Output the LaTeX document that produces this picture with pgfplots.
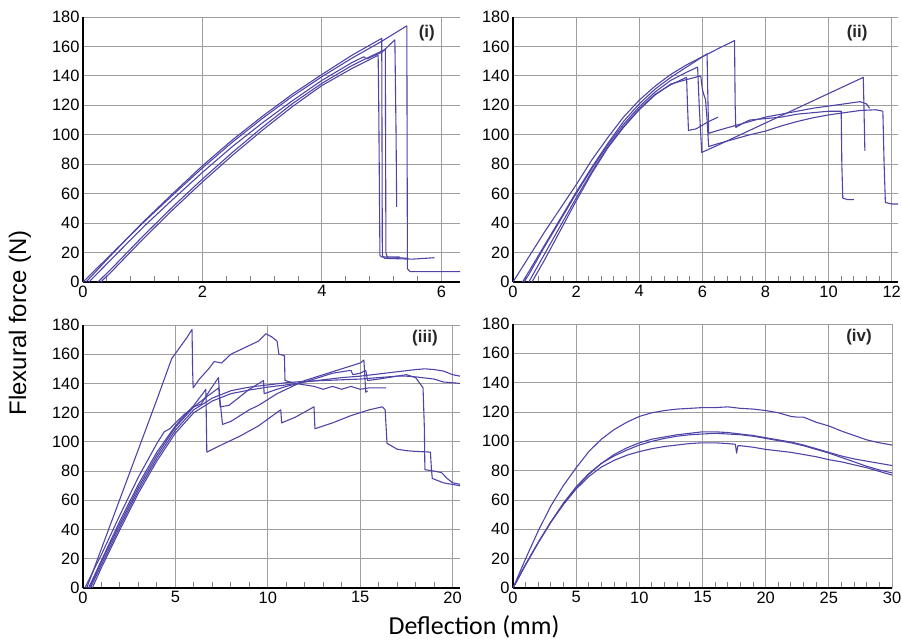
\documentclass[border=0pt]{standalone}
\usepackage{fontspec}
\setmainfont{Liberation Sans}
\newfontfamily\carlito{Carlito}
\usepackage{pgfplots}
\pgfplotsset{compat=1.18}

\definecolor{fcurve}{RGB}{78,68,168}
\definecolor{gridc}{RGB}{158,158,158}

\pgfplotsset{
  panel/.style={
    scale only axis,
    ymin=0, ymax=180, xmin=0,
    ytick={0,20,...,180},
    axis x line*=bottom, axis y line*=left,
    axis line style={black, line width=1.6pt, -},
    grid=major,
    major grid style={gridc, line width=1pt},
    major tick length=0pt,
    minor x tick num=4,
    minor tick length=6pt,
    minor x tick style={gray, line width=1pt},
    tick align=inside,
    tick label style={font=\fontsize{16.5}{17}\selectfont},
    /pgf/number format/assume math mode=true,
    no markers,
  },
}
\tikzset{
  fc/.style={draw=fcurve, line width=1.1pt, line join=round, mark=none},
  tag/.style={font=\fontsize{17}{18}\selectfont\bfseries, text=black!85},
}

\begin{document}
\begin{tikzpicture}
\useasboundingbox (0,0) rectangle (902bp,-640bp);

% (i)
\begin{axis}[panel, at={(83bp,-282bp)}, anchor=south west,
  width=377bp, height=265bp, xmax=6.31, xtick={0,2,4,6}]
\addplot[fc] coordinates {(0,0) (0.5,20) (1,40) (1.5,59) (2,77.5) (2.5,95) (3,111) (3.5,126) (4,139.5) (4.5,152) (5,163.5) (5.42,174) (5.43,9) (5.48,7) (6.31,7)};
\addplot[fc] coordinates {(0.05,0) (0.5,19.5) (1,40.5) (1.5,60) (2,79) (2.5,96.5) (3,112.5) (3.5,127.5) (4,141) (4.5,154) (5.0,165.5) (5.01,18) (5.05,16) (5.3,16.5) (5.45,16)};
\addplot[fc] coordinates {(0.1,0) (0.5,16.5) (1,37) (1.5,56) (2,74.5) (2.5,92) (3,108) (3.5,123) (4,137) (4.5,149) (4.7,153) (4.75,151.5) (5,156) (5.22,164.5) (5.24,100) (5.25,51)};
\addplot[fc] coordinates {(0.25,0) (0.5,10) (1,31) (1.5,51) (2,70) (2.5,88) (3,105) (3.5,121) (4,135) (4.5,147) (4.8,153) (5.06,158) (5.07,20) (5.1,16) (5.5,15.5) (5.88,16.5)};
\addplot[fc] coordinates {(0.3,0) (0.5,8) (1,29) (1.5,49) (2,68) (2.5,86) (3,103) (3.5,119) (4,133.5) (4.5,145) (4.94,154) (4.95,120) (4.97,18) (5.0,17) (5.3,17)};
\node[tag] at (rel axis cs:0.912,0.94) {(i)};
\end{axis}

% (ii)
\begin{axis}[panel, at={(513bp,-282bp)}, anchor=south west,
  width=385bp, height=265bp, xmax=12.2, xtick={0,2,...,12}]
\addplot[fc] coordinates {(0,0) (0.5,17) (1,34) (1.5,50) (2,66) (2.5,83) (3,98) (3.5,112) (4,123.5) (4.5,133) (5,141) (5.5,147.5) (6,153) (6.5,158.5) (7.02,164) (7.04,120) (7.06,105) (7.3,108) (7.5,110) (8,111) (8.5,112) (9,114) (9.5,115) (10,116) (10.4,116) (10.42,80) (10.45,57) (10.6,56) (10.8,56)};
\addplot[fc] coordinates {(0.3,0) (0.5,7) (1,25) (1.5,43) (2,61) (2.5,78) (3,94) (3.5,109) (4,121) (4.5,131) (5,139) (5.5,146) (6.15,155) (6.17,130) (6.2,101) (6.5,103) (7,106) (7.5,109) (8,112) (8.5,114) (9,116) (9.5,118) (10,119.5) (10.5,121) (11,122.5) (11.2,121) (11.3,118)};
\addplot[fc] coordinates {(0.35,0) (0.5,5) (1,24) (1.5,42) (2,60) (2.5,77) (3,93) (3.5,107) (4,119) (4.5,129) (5,137) (5.5,142.5) (5.85,146) (5.9,120) (5.98,88) (6.5,93) (7,98) (7.5,103) (8,108) (8.5,113) (9,118) (9.5,123) (10,128) (10.5,133) (11,138) (11.1,139) (11.12,120) (11.15,89)};
\addplot[fc] coordinates {(0.5,0) (1,19) (1.5,38) (2,57) (2.5,75) (3,91.5) (3.5,105.5) (4,117.5) (4.5,127.5) (5,134) (5.5,139) (5.53,120) (5.56,103) (5.8,104) (6.2,109) (6.5,112)};
\addplot[fc] coordinates {(0.6,0) (1,15) (1.5,35) (2,55) (2.5,74) (3,91) (3.5,105) (4,117) (4.5,127) (5,134.5) (5.5,137.5) (5.95,140) (6.0,131) (6.05,127) (6.1,124) (6.15,110) (6.2,92) (6.5,94) (7,97) (7.5,100) (8,102.5) (8.5,106) (9,109) (9.5,111.5) (10,113.5) (10.5,115) (11,116.5) (11.5,117) (11.72,116) (11.76,80) (11.8,54) (12,53) (12.2,53)};
\node[tag] at (rel axis cs:0.894,0.94) {(ii)};
\end{axis}

% (iii)
\begin{axis}[panel, at={(83bp,-588bp)}, anchor=south west,
  width=377bp, height=263bp, xmax=20.4, xtick={0,5,...,20}]
\addplot[fc] coordinates {(0.2,0) (1,27) (2,61) (3,95) (4,129) (4.8,157) (5.2,164) (5.6,171) (5.9,177) (5.93,150) (5.96,137) (6.3,143) (6.8,150) (7.1,155) (7.5,154) (8,160) (8.5,163) (9,166) (9.5,169) (9.9,174) (10.2,172) (10.5,169) (10.6,160) (10.9,159) (10.93,142) (11.5,140) (12,139) (12.5,138) (13,136) (13.5,138) (14,136) (14.5,138) (15,136) (15.5,137) (16.4,137)};
\addplot[fc] coordinates {(0.3,0) (1,19) (2,46) (3,71) (4,93) (5,111) (6,125) (6.65,136) (6.68,110) (6.7,93) (7.5,98) (8.5,104) (9.5,111) (10.7,122) (10.75,113) (11.5,117) (12.5,124) (12.55,109) (13.5,113) (14.5,118) (15.5,122) (16.2,124) (16.35,122) (16.45,99) (17,95) (17.5,94) (18,93.5) (18.8,93) (18.85,82) (18.9,75) (19.5,72) (20.4,70)};
\addplot[fc] coordinates {(0.1,0) (1,23) (2,50) (3,76) (4,99) (4.4,107) (4.7,109) (5,113) (5.5,119) (6,124) (6.4,126) (6.9,136) (7.33,144) (7.4,130) (7.55,112) (8,114) (8.5,118) (9,122) (9.5,125) (10,129) (10.5,133) (11,136) (11.5,139) (12,142) (12.5,144) (13,146) (13.5,148) (14,150) (14.5,152) (15,154) (15.2,156) (15.25,145) (15.3,134) (15.4,135)};
\addplot[fc] coordinates {(0.35,0) (1,18) (2,44) (3,69) (4,91) (5,110) (6,124) (6.7,131) (7.35,137) (7.42,124) (7.9,125) (8.5,131) (9,136) (9.77,142) (9.8,133) (10.5,136) (11,138) (12,141) (13,145) (13.5,147) (14,148) (14.5,149) (14.6,146) (15,147) (15.3,149) (15.4,142) (16,143) (17,145) (17.5,146) (18,144) (18.4,137) (18.47,110) (18.5,81) (19,80) (19.4,79) (19.7,75) (20,72) (20.4,71)};
\addplot[fc] coordinates {(0.5,0) (1,14) (2,40) (3,65) (4,87) (5,106) (6,120) (7,128) (8,133) (9,135.5) (10,137.5) (11,139) (12,141) (13,142.5) (14,144) (15,145) (16,146.5) (17,148) (18,149.5) (18.5,150) (19,149.5) (19.5,148.5) (20,146) (20.4,145)};
\addplot[fc] coordinates {(0.4,0) (1,16) (2,42) (3,67) (4,89) (5,108) (6,122) (7,130) (8,135) (9,137.5) (10,139) (11,140.5) (12,141.5) (13,142) (14,142.5) (15,143) (16,144) (17,145) (17.5,145) (18,144.5) (19,143) (19.5,141) (20,140.5) (20.4,140)};
\node[tag] at (rel axis cs:0.907,0.95) {(iii)};
\end{axis}

% (iv)
\begin{axis}[panel, at={(513bp,-588bp)}, anchor=south west,
  width=379bp, height=264bp, xmax=30, xtick={0,5,...,30}]
\addplot[fc] coordinates {(0,0) (1,20) (2,39) (3,56) (4,70) (5,82) (6,93) (7,101.5) (8,108) (9,113) (10,117) (11,119.5) (12,121) (13,122) (14,122.5) (15,123) (16,123) (17,123.5) (18,122.5) (19,122) (20,121) (21,119.5) (22,117) (22.5,116.5) (23,116.5) (24,113) (25,110.5) (26,107) (27,104) (28,101) (29,99) (30,97.5)};
\addplot[fc] coordinates {(0,0) (1,16) (2,31) (3,45) (4,58) (5,69) (6,78) (7,85) (8,91) (9,95.5) (10,99) (11,101.5) (12,103) (13,104.5) (14,105.5) (15,106.5) (16,106.5) (17,106) (18,105) (19,104) (20,102.5) (21,101) (22,99.5) (23,97.5) (24,95) (25,92.5) (26,90) (27,88) (28,86.5) (29,85) (30,83.5)};
\addplot[fc] coordinates {(0,0) (1,16) (2,31) (3,45) (4,57.5) (5,68.5) (6,77.5) (7,85) (8,90) (9,94) (10,97.5) (11,100) (12,102) (13,103.5) (14,104.5) (15,105) (16,105.5) (17,105) (18,104.5) (19,103.5) (20,102) (21,100.5) (22,99) (23,97) (24,94.5) (25,92) (26,89) (27,86) (28,83) (29,80.5) (30,78.5)};
\addplot[fc] coordinates {(0,0) (1,16) (2,31) (3,45) (4,57) (5,67.5) (6,76) (7,82.5) (8,87) (9,90.5) (10,93) (11,95) (12,96.5) (13,97.5) (14,98.5) (15,99) (16,99) (17,98.5) (17.6,98) (17.7,92) (17.8,97) (18,97) (19,96) (20,94.5) (21,93.5) (22,92.5) (23,91) (24,89.5) (25,87.5) (26,86) (27,84) (28,82) (29,79.5) (30,77)};
\node[tag] at (rel axis cs:0.913,0.95) {(iv)};
\end{axis}

\node[rotate=90, font=\fontsize{24}{26}\selectfont] at (20bp,-323bp) {Flexural force (N)};
\node[font=\carlito\fontsize{26}{28}\selectfont] at (474bp,-627bp) {Deflection (mm)};
\end{tikzpicture}
\end{document}
